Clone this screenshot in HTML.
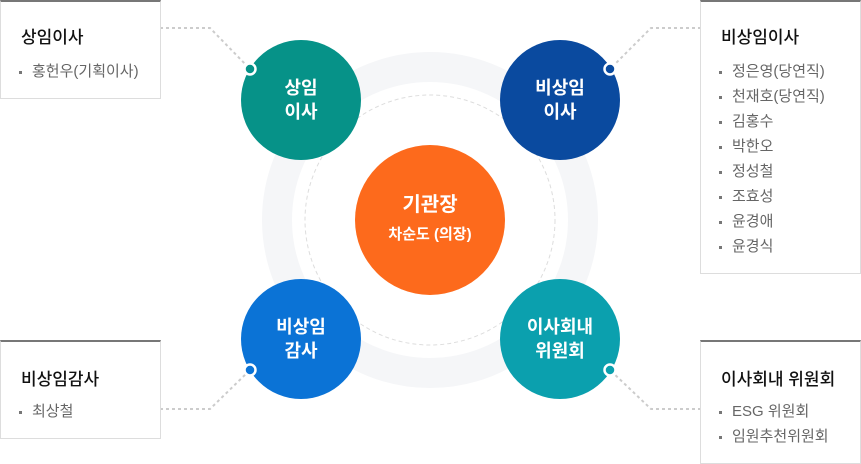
<!DOCTYPE html>
<html><head><meta charset="utf-8"><style>
html,body{margin:0;padding:0;width:861px;height:464px;background:#fff;overflow:hidden;font-family:"Liberation Sans","Noto Sans CJK KR",sans-serif}
.box{position:absolute;background:#fff;border:1px solid #ddd;border-top:2px solid #777;box-sizing:border-box}
.box h3{margin:0;position:absolute;left:20px;font-size:17px;font-weight:500;color:#111;white-space:nowrap}
.box ul{list-style:none;margin:0;padding:0;position:absolute;left:18px}
.box li{font-size:15px;color:#666;height:25px;line-height:25px;padding-left:13px;position:relative;white-space:nowrap}
.box li:before{content:"";position:absolute;left:0;top:12px;width:3px;height:3px;background:#777}
.c{position:absolute;border-radius:50%;color:#fff;font-weight:bold;text-align:center;display:flex;align-items:center;justify-content:center;flex-direction:column;font-size:18px;line-height:24px}
</style></head><body>
<svg width="861" height="464" style="position:absolute;left:0;top:0">
<circle cx="430" cy="220" r="153" fill="none" stroke="#f5f6f8" stroke-width="30"/>
<circle cx="430" cy="220" r="125" fill="none" stroke="#ddd" stroke-width="1" stroke-dasharray="4 3"/>
<g fill="none" stroke="#ccc" stroke-width="2" stroke-dasharray="3 3">
<polyline points="160,28 210,28 250,69"/>
<polyline points="701,28 651,28 610,69"/>
<polyline points="160,409 210,409 250,370"/>
<polyline points="701,409 651,409 610,370"/>
</g>
</svg>
<div class="box" style="left:0;top:0;width:161px;height:99px"><h3 style="top:21px">상임이사</h3><ul style="top:57px"><li>홍헌우(기획이사)</li></ul></div>
<div class="box" style="left:700px;top:0;width:161px;height:274px"><h3 style="top:21px">비상임이사</h3><ul style="top:57px"><li>정은영(당연직)</li><li>천재호(당연직)</li><li>김홍수</li><li>박한오</li><li>정성철</li><li>조효성</li><li>윤경애</li><li>윤경식</li></ul></div>
<div class="box" style="left:0;top:340px;width:161px;height:99px"><h3 style="top:23px">비상임감사</h3><ul style="top:57px"><li>최상철</li></ul></div>
<div class="box" style="left:700px;top:340px;width:161px;height:124px"><h3 style="top:23px">이사회내 위원회</h3><ul style="top:57px"><li>ESG 위원회</li><li>임원추천위원회</li></ul></div>
<div class="c" style="left:355px;top:145px;width:150px;height:150px;background:#fd6a1c"><div style="font-size:20px">기관장</div><div style="font-size:15px;margin-top:6px">차순도 (의장)</div></div>
<div class="c" style="left:241px;top:40px;width:120px;height:120px;background:#069288">상임<br>이사</div>
<div class="c" style="left:500px;top:40px;width:120px;height:120px;background:#0a4a9f">비상임<br>이사</div>
<div class="c" style="left:241px;top:279px;width:120px;height:120px;background:#0b73d6">비상임<br>감사</div>
<div class="c" style="left:500px;top:279px;width:120px;height:120px;background:#0ba0ae">이사회내<br>위원회</div>
<svg width="861" height="464" style="position:absolute;left:0;top:0">
<circle cx="250" cy="69" r="5.5" fill="#069288" stroke="#fff" stroke-width="2.5"/>
<circle cx="610" cy="69" r="5.5" fill="#0a4a9f" stroke="#fff" stroke-width="2.5"/>
<circle cx="250" cy="370" r="5.5" fill="#0b73d6" stroke="#fff" stroke-width="2.5"/>
<circle cx="610" cy="370" r="5.5" fill="#0ba0ae" stroke="#fff" stroke-width="2.5"/>
</svg>
</body></html>
